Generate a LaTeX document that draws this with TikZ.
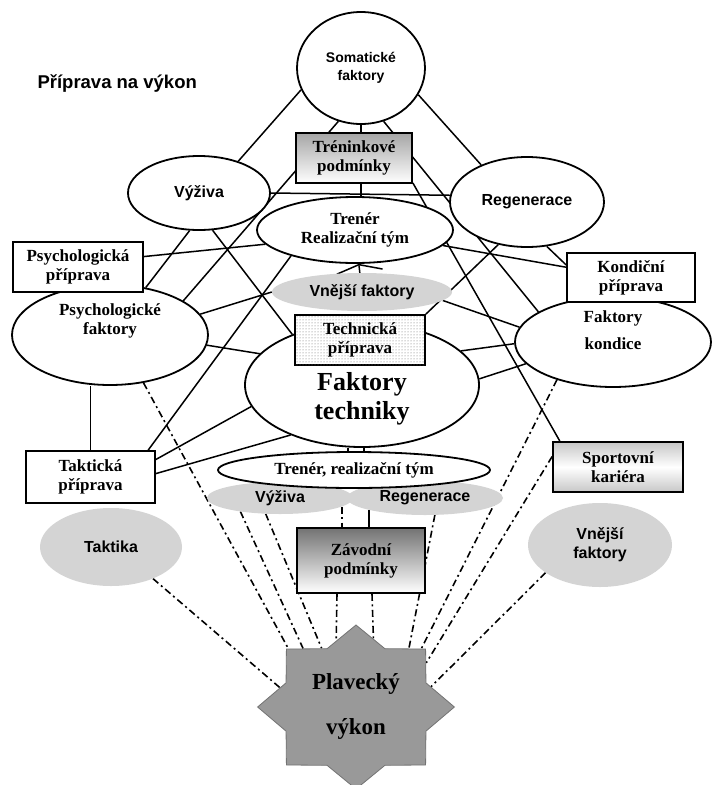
\documentclass[tikz,border=0pt]{standalone}
\usepackage{fontspec}
\setmainfont{Liberation Serif}
\setsansfont{Liberation Sans}
\usetikzlibrary{shapes.geometric,arrows.meta,backgrounds,patterns}

\tikzset{
  serif/.style={font=\bfseries\fontsize{17}{19}\selectfont},
  sans/.style={font=\sffamily\bfseries\fontsize{16}{19}\selectfont},
  ell/.style={ellipse,draw,line width=1.8pt,fill=white,inner sep=0pt,align=center},
  box/.style={rectangle,draw,line width=1.8pt,fill=white,inner sep=0pt,align=center,serif},
  cloudy/.style={ellipse,fill=black!17,inner sep=0pt,align=center,sans},
  conn/.style={line width=1.5pt},
  dd/.style={line width=1.6pt,dash pattern=on 7pt off 3.5pt on 2pt off 3.5pt},
}

\begin{document}
\begin{tikzpicture}[x=1pt,y=-1pt]
    \useasboundingbox (0,0) rectangle (712,785);
    \node[anchor=west,font=\sffamily\bfseries\fontsize{18.5}{21}\selectfont] (title) at (34,84) {Příprava na výkon};

    \node[ell,sans,font=\sffamily\bfseries\fontsize{14}{18}\selectfont,minimum width=128pt,minimum height=112pt] (som) at (361,68) {Somatické\\faktory};
    \node[box,minimum width=116pt,minimum height=50pt,top color=black!35,bottom color=white] (trenink) at (354,158) {Tréninkové\\podmínky};
    \node[ell,sans,minimum width=142pt,minimum height=74pt] (vyz) at (199,193) {Výživa};
    \node[ell,sans,minimum width=154pt,minimum height=90pt] (reg) at (527,202) {Regenerace};
    \node[ell,serif,minimum width=196pt,minimum height=66pt] (trener) at (355,230) {Trenér\\Realizační tým};

    \node[ell,serif,minimum width=196pt,minimum height=100pt] (psyf) at (110,335) {Psychologické\\faktory\\[12pt]~};
    \node[box,minimum width=130pt,minimum height=50pt] (psyp) at (78,267) {Psychologická\\příprava};
    \node[ell,serif,minimum width=196pt,minimum height=90pt] (kondf) at (613,342) {Faktory\\[8pt]kondice\\[4pt]~};
    \node[box,minimum width=128pt,minimum height=49pt] (kondp) at (631,277.5) {Kondiční\\příprava};
    \node[cloudy,minimum width=180pt,minimum height=38pt] (vnf) at (362,292) {Vnější faktory};
    \node[ell,minimum width=234pt,minimum height=124pt,font=\bfseries\fontsize{26}{29}\selectfont] (techf) at (362,385) {\strut\\[-4pt]Faktory\\techniky};
    \node[box,minimum width=130pt,minimum height=50pt,postaction={pattern=dots,pattern color=black!60}] (techp) at (360,340) {Technická\\příprava};

    \node[cloudy,minimum width=146pt,minimum height=32pt] (vyzc) at (280,498) {Výživa};
    \node[cloudy,minimum width=156pt,minimum height=34pt] (regc) at (425,498) {Regenerace};
    \node[ell,serif,minimum width=272pt,minimum height=36pt] (trener2) at (354,470) {Trenér, realizační tým};
    \node[box,minimum width=128pt,minimum height=65pt,top color=black!55,bottom color=white] (zav) at (361,560.5) {Závodní\\podmínky};
    \node[box,minimum width=129pt,minimum height=52pt] (takp) at (90.5,477) {Taktická\\příprava};
    \node[box,minimum width=130pt,minimum height=50pt,top color=black!22,bottom color=black!22,middle color=white] (sport) at (618,467) {Sportovní\\kariéra};
    \node[cloudy,minimum width=142pt,minimum height=78pt] (takc) at (111,547) {Taktika};
    \node[cloudy,minimum width=144pt,minimum height=84pt] (vnf2) at (600,545) {Vnější\\faktory};
    \node[star,star points=8,star point ratio=1.3,minimum size=164pt,inner sep=0pt,fill=black!40,draw=black!55,line width=0.8pt,xscale=1.2,transform shape,font=\bfseries\fontsize{23}{25}\selectfont] (vykon) at (356,707) {\scalebox{0.83}[1]{\begin{tabular}{@{}c@{}}Plavecký\\[20pt]výkon\end{tabular}}};

    \begin{scope}[on background layer]
    \draw [conn] (som.200) -- (vyz.39);
    \draw [conn] (som.335) -- (reg.141);
    \draw [conn] (som.south) -- (som.south |- trener.north);
    \draw [conn] (som.247) -- (psyf.25);
    \draw [conn] (som.293) -- (kondf.158);
    \draw [conn] (vyz.east) -- (reg.175);
    \draw [conn] (vyz.256) -- (psyf.53);
    \draw [conn] (vyz.290) -- (techf.144);
    \draw [conn] (psyp.9) -- (trener.189);
    \draw [conn] (trener.350) -- (kondp.171);
    \draw [conn] (trener.202) -- (takp.25.5);
    \draw [conn] (trenink.337) -- (sport.156);
    \draw [conn] (reg.294.5) -- (kondp.169);
    \draw [conn] (reg.236) -- (techp.north east);
    \draw [conn,-{Straight Barb[length=7pt,width=46pt]}] (vnf) -- (trener);
    \draw [conn] (psyf.13) -- (vnf.west);
    \draw [conn] (psyf.354) -- (techf.163);
    \draw [conn] (takp.north) -- (takp.north |- psyf.south);
    \draw [conn] (takp.15) -- (techf.191.6);
    \draw [conn] (takp.3.5) -- (techf.215.5);
    \draw [conn] (vnf.354.6) -- (kondf.171);
    \draw [conn] (techf.19) -- (kondf.181);
    \draw [conn] (techf.3.5) -- (kondf.194);
    \draw [conn] ([xshift=-14pt]techf.south) -- ([xshift=-14pt]techf.south |- trener2.north);
    \draw [conn] ([xshift=2pt]techf.south) -- ([xshift=2pt]techf.south |- trener2.north);
    \draw [dd] (vyzc.352) -- (vyzc.352 |- zav.north);
    \draw [conn] (regc.192) -- (regc.192 |- zav.north);
    \draw [dd] (psyf.305) -- (vykon.134);
    \draw [dd] (takc.323.6) -- (vykon.163);
    \draw [dd] (vyzc.199) -- (vykon.127);
    \draw [dd] (vyzc.228) -- (vykon.116);
    \draw [dd] ([xshift=-24pt]zav.south) -- (vykon.104);
    \draw [dd] ([xshift=11pt]zav.south) -- (vykon.78);
    \draw [dd] (regc.300) -- (vykon.53);
    \draw [dd] (kondf.214) -- (vykon.47);
    \draw [dd] (sport.171) -- (vykon.37);
    \draw [dd] (vnf2.207) -- (vykon.18);
    \end{scope}
\end{tikzpicture}
\end{document}
